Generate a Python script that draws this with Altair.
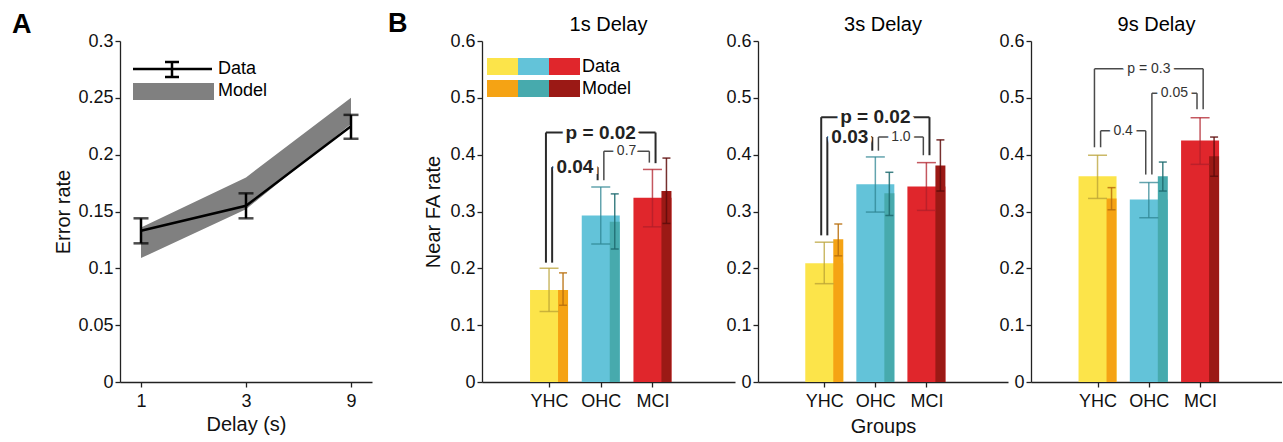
import altair as alt
import pandas as pd

FONT = "Liberation Sans"

# ---------------- Panel A data ----------------
delays = ["1", "3", "9"]
err_mean = [0.133, 0.155, 0.225]
err_lo = [0.122, 0.144, 0.214]
err_hi = [0.144, 0.166, 0.235]
model_lo = [0.109, 0.152, 0.227]
model_hi = [0.136, 0.180, 0.250]

# ---------------- Panel B data ----------------
groups = ["YHC", "OHC", "MCI"]
delay_titles = ["1s Delay", "3s Delay", "9s Delay"]

data_1s = [0.162, 0.293, 0.324]
data_1s_lo = [0.124, 0.243, 0.273]
data_1s_hi = [0.200, 0.343, 0.374]
model_1s = [0.162, 0.282, 0.336]
model_1s_lo = [0.135, 0.234, 0.279]
model_1s_hi = [0.192, 0.331, 0.394]

data_3s = [0.209, 0.348, 0.344]
data_3s_lo = [0.173, 0.299, 0.302]
data_3s_hi = [0.246, 0.396, 0.386]
model_3s = [0.251, 0.332, 0.381]
model_3s_lo = [0.222, 0.293, 0.336]
model_3s_hi = [0.278, 0.369, 0.426]

data_9s = [0.362, 0.321, 0.425]
data_9s_lo = [0.323, 0.289, 0.383]
data_9s_hi = [0.399, 0.351, 0.465]
model_9s = [0.323, 0.362, 0.397]
model_9s_lo = [0.303, 0.336, 0.362]
model_9s_hi = [0.342, 0.387, 0.431]

# significance brackets: (group a, group b, top, left bottom, right bottom, label, bold)
brk_1s_a = ["YHC", "YHC", "OHC"]
brk_1s_b = ["MCI", "OHC", "MCI"]
brk_1s_top = [0.439, 0.378, 0.406]
brk_1s_lb = [0.210, 0.210, 0.355]
brk_1s_rb = [0.385, 0.355, 0.386]
brk_1s_label = ["p = 0.02", "0.04", "0.7"]
brk_1s_bold = [True, True, False]

brk_3s_a = ["YHC", "YHC", "OHC"]
brk_3s_b = ["MCI", "OHC", "MCI"]
brk_3s_top = [0.466, 0.431, 0.431]
brk_3s_lb = [0.258, 0.258, 0.407]
brk_3s_rb = [0.399, 0.407, 0.399]
brk_3s_label = ["p = 0.02", "0.03", "1.0"]
brk_3s_bold = [True, True, False]

brk_9s_a = ["YHC", "OHC", "YHC"]
brk_9s_b = ["MCI", "MCI", "OHC"]
brk_9s_top = [0.551, 0.508, 0.442]
brk_9s_lb = [0.413, 0.365, 0.413]
brk_9s_rb = [0.480, 0.480, 0.365]
brk_9s_label = ["p = 0.3", "0.05", "0.4"]
brk_9s_bold = [False, False, False]

# ---------------- styles ----------------
data_colors = ["#FCE44A", "#63C3D9", "#E0262C"]
model_colors = ["#F5A314", "#47AAAD", "#9B1915"]
data_err_colors = ["#B9A136", "#2F8593", "#B01F2A"]
model_err_colors = ["#B8700E", "#1E6B70", "#5E0C0A"]

PLOT_H = 341
B_WIDTHS = [253, 250, 251]
X_DOMAIN = [-0.2, 4.5]
LEG_OFF = 0.06

delay_sets = [
    (data_1s, data_1s_lo, data_1s_hi, model_1s, model_1s_lo, model_1s_hi,
     brk_1s_a, brk_1s_b, brk_1s_top, brk_1s_lb, brk_1s_rb, brk_1s_label, brk_1s_bold),
    (data_3s, data_3s_lo, data_3s_hi, model_3s, model_3s_lo, model_3s_hi,
     brk_3s_a, brk_3s_b, brk_3s_top, brk_3s_lb, brk_3s_rb, brk_3s_label, brk_3s_bold),
    (data_9s, data_9s_lo, data_9s_hi, model_9s, model_9s_lo, model_9s_hi,
     brk_9s_a, brk_9s_b, brk_9s_top, brk_9s_lb, brk_9s_rb, brk_9s_label, brk_9s_bold),
]

one = pd.DataFrame({"v": [0]})


def px_text(txt, x, y, size, weight="normal", align="left"):
    return alt.Chart(one).mark_text(text=txt, align=align, baseline="middle", font=FONT, fontSize=size,
                                    fontWeight=weight, color="black").encode(x=alt.value(x), y=alt.value(y))


# ---------------- Panel A ----------------
dfA = pd.DataFrame({"delay": delays, "mean": err_mean, "lo": err_lo, "hi": err_hi,
                    "mlo": model_lo, "mhi": model_hi})
xA = alt.X("delay:O", sort=delays, scale=alt.Scale(type="point", padding=0.2),
           axis=alt.Axis(title="Delay (s)", labelAngle=0, titlePadding=4, labelPadding=5))
yscA = alt.Scale(domain=[0, 0.3])
axisA = alt.Axis(title="Error rate", values=[0, 0.05, 0.1, 0.15, 0.2, 0.25, 0.3],
                 format=".2~f", titlePadding=4)
baseA = alt.Chart(dfA)
areaA = baseA.mark_area(color="#808080", opacity=1).encode(
    x=xA, y=alt.Y("mlo:Q", scale=yscA, axis=axisA), y2="mhi:Q")
lineA = baseA.mark_line(color="black", strokeWidth=2.5).encode(x=xA, y=alt.Y("mean:Q", scale=yscA))
ruleA = baseA.mark_rule(color="black", strokeWidth=2.5).encode(x=xA, y=alt.Y("lo:Q", scale=yscA), y2="hi:Q")
capLoA = baseA.mark_tick(color="black", orient="horizontal", size=15, thickness=2.5).encode(
    x=xA, y=alt.Y("lo:Q", scale=yscA))
capHiA = baseA.mark_tick(color="black", orient="horizontal", size=15, thickness=2.5).encode(
    x=xA, y=alt.Y("hi:Q", scale=yscA))

legA_line = alt.Chart(one).mark_rule(color="black", strokeWidth=2.5).encode(
    x=alt.value(13), x2=alt.value(92), y=alt.value(28))
legA_err = alt.Chart(one).mark_rule(color="black", strokeWidth=2.5).encode(
    x=alt.value(52), y=alt.value(21), y2=alt.value(36))
legA_cap1 = alt.Chart(one).mark_rule(color="black", strokeWidth=2.5).encode(
    x=alt.value(45), x2=alt.value(59), y=alt.value(21))
legA_cap2 = alt.Chart(one).mark_rule(color="black", strokeWidth=2.5).encode(
    x=alt.value(45), x2=alt.value(59), y=alt.value(36))
legA_rect = alt.Chart(one).mark_rect(color="#808080").encode(
    x=alt.value(13), x2=alt.value(94), y=alt.value(42), y2=alt.value(59))

chartA = alt.layer(areaA, lineA, ruleA, capLoA, capHiA,
                   legA_line, legA_err, legA_cap1, legA_cap2, legA_rect,
                   px_text("Data", 98, 28, 18), px_text("Model", 98, 50, 18),
                   px_text("A", -108, -16, 27, "bold")
                   ).properties(width=252, height=PLOT_H)

# ---------------- spacer (carries the "B" panel letter) ----------------
spacer = alt.layer(
    alt.Chart(one).mark_point(opacity=0).encode(
        x=alt.X("v:Q", axis=None), y=alt.Y("v:Q", axis=None)),
    px_text("B", -7, -17, 27, "bold"),
).properties(width=64, height=PLOT_H)

# ---------------- Panel B ----------------
label_expr = " : ".join([f"datum.value == {i+1} ? '{g}'" for i, g in enumerate(groups)]) + " : ''"
pos_of = {g: i + 1 for i, g in enumerate(groups)}


def bar_panel(k):
    (d, dlo, dhi, m, mlo, mhi, ba, bb, btop, blb, brb, blab, bbold) = delay_sets[k]
    df = pd.DataFrame({
        "pos": [1, 2, 3], "group": groups,
        "data": d, "dlo": dlo, "dhi": dhi, "model": m, "mlo": mlo, "mhi": mhi,
        "dcol": data_colors, "mcol": model_colors, "decol": data_err_colors, "mecol": model_err_colors,
    })
    ysc = alt.Scale(domain=[0, 0.6])
    xsc = alt.Scale(domain=X_DOMAIN)
    x = alt.X("pos:Q", scale=xsc,
              axis=alt.Axis(values=[1, 2, 3], labelExpr=label_expr, title="Groups" if k == 1 else None,
                            titlePadding=6, labelPadding=5))
    y = alt.Y("data:Q", scale=ysc,
              axis=alt.Axis(values=[0, 0.1, 0.2, 0.3, 0.4, 0.5, 0.6], format=".1~f",
                            title="Near FA rate" if k == 0 else None, titlePadding=6))
    base = alt.Chart(df)
    dbar = base.mark_bar(width=38, orient="vertical").encode(
        x=x, y=y, color=alt.Color("dcol:N", scale=None))
    mbar = base.mark_bar(width=10, xOffset=14, orient="vertical").encode(
        x=x, y=alt.Y("model:Q", scale=ysc), color=alt.Color("mcol:N", scale=None))
    derr = base.mark_rule(strokeWidth=1.5, opacity=0.75).encode(
        x=x, y=alt.Y("dlo:Q", scale=ysc), y2="dhi:Q", color=alt.Color("decol:N", scale=None))
    dcap1 = base.mark_tick(orient="horizontal", size=19, thickness=1.5, opacity=0.75).encode(
        x=x, y=alt.Y("dlo:Q", scale=ysc), color=alt.Color("decol:N", scale=None))
    dcap2 = base.mark_tick(orient="horizontal", size=19, thickness=1.5, opacity=0.75).encode(
        x=x, y=alt.Y("dhi:Q", scale=ysc), color=alt.Color("decol:N", scale=None))
    merr = base.mark_rule(strokeWidth=1.5, opacity=0.85, xOffset=14).encode(
        x=x, y=alt.Y("mlo:Q", scale=ysc), y2="mhi:Q", color=alt.Color("mecol:N", scale=None))
    mcap1 = base.mark_tick(orient="horizontal", size=8, thickness=1.5, opacity=0.85, xOffset=14).encode(
        x=x, y=alt.Y("mlo:Q", scale=ysc), color=alt.Color("mecol:N", scale=None))
    mcap2 = base.mark_tick(orient="horizontal", size=8, thickness=1.5, opacity=0.85, xOffset=14).encode(
        x=x, y=alt.Y("mhi:Q", scale=ysc), color=alt.Color("mecol:N", scale=None))

    # brackets
    rows = []
    for a, b, t, lb, rb, lab, bold in zip(ba, bb, btop, blb, brb, blab, bbold):
        outer = (pos_of[b] - pos_of[a]) == 2
        xl = pos_of[a] + (-LEG_OFF if outer else LEG_OFF)
        xr = pos_of[b] + (LEG_OFF if outer else -LEG_OFF)
        rows.append({"xl": xl, "xr": xr, "xm": (xl + xr) / 2, "top": t, "lb": lb, "rb": rb,
                     "label": lab, "bold": bold})
    bdf = pd.DataFrame(rows)
    bbase = alt.Chart(bdf)
    layers = [dbar, mbar, derr, dcap1, dcap2, merr, mcap1, mcap2]
    for is_bold, col, sw, fw, fs in [(True, "#2a2a2a", 2.0, "bold", 19), (False, "#4a4a4a", 1.5, "normal", 14)]:
        if not any(b == is_bold for b in bbold):
            continue
        sub = bbase.transform_filter(f"datum.bold == {'true' if is_bold else 'false'}")
        layers += [
            sub.mark_rule(color=col, strokeWidth=sw).encode(
                x=alt.X("xl:Q", scale=xsc), y=alt.Y("lb:Q", scale=ysc), y2="top:Q"),
            sub.mark_rule(color=col, strokeWidth=sw).encode(
                x=alt.X("xr:Q", scale=xsc), y=alt.Y("rb:Q", scale=ysc), y2="top:Q"),
            sub.mark_rule(color=col, strokeWidth=sw).encode(
                x=alt.X("xl:Q", scale=xsc), x2="xr:Q", y=alt.Y("top:Q", scale=ysc)),
            sub.mark_text(font=FONT, fontSize=fs, fontWeight=fw, color="white", stroke="white",
                          strokeWidth=8, baseline="middle").encode(
                x=alt.X("xm:Q", scale=xsc), y=alt.Y("top:Q", scale=ysc), text="label:N"),
            sub.mark_text(font=FONT, fontSize=fs, fontWeight=fw, color="#222" if is_bold else "#333",
                          baseline="middle").encode(
                x=alt.X("xm:Q", scale=xsc), y=alt.Y("top:Q", scale=ysc), text="label:N"),
        ]

    if k == 0:
        for row, cols in enumerate([data_colors, model_colors]):
            for i, c in enumerate(cols):
                x0 = 5 + i * 31
                y0 = 17 + row * 22
                layers.append(alt.Chart(one).mark_rect(color=c).encode(
                    x=alt.value(x0), x2=alt.value(x0 + 31), y=alt.value(y0), y2=alt.value(y0 + 17)))
        layers += [px_text("Data", 100, 25.5, 18), px_text("Model", 100, 47.5, 18)]

    return alt.layer(*layers).properties(
        width=B_WIDTHS[k], height=PLOT_H,
        title=alt.TitleParams(delay_titles[k], fontSize=20, fontWeight="normal", font=FONT, offset=-3))


chart = alt.hconcat(chartA, spacer, bar_panel(0), bar_panel(1), bar_panel(2), spacing=23, bounds="flush")
chart = chart.properties(padding={"left": 12, "top": 10, "right": 0, "bottom": 0}).configure_view(
    stroke=None).configure_axis(
    domainColor="#222", tickColor="#222", labelColor="#111", labelFont=FONT, labelFontSize=18,
    titleFont=FONT, titleFontSize=20, titleFontWeight="normal", titleColor="#111",
    grid=False, tickSize=5, domainWidth=1.3, tickWidth=1.3)

chart.save("out.html", embed_options={"renderer": "svg", "actions": False})
